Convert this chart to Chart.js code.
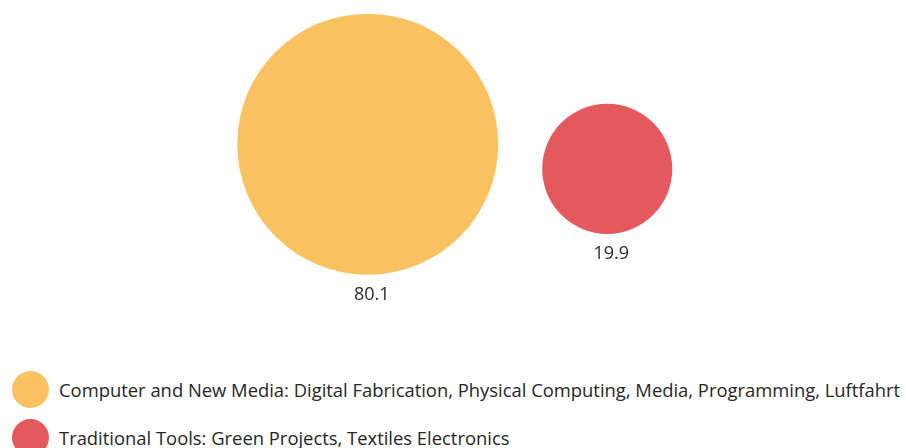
<!DOCTYPE html>
<html>
<head>
<meta charset="utf-8">
<script src="https://cdn.jsdelivr.net/npm/chart.js@4.4.0/dist/chart.umd.min.js"></script>
<style>
  body { margin: 0; background: #fff; font-family: "Open Sans", sans-serif; }
  #wrap { position: relative; width: 906px; height: 448px; overflow: hidden; }
  #legend { position: absolute; left: 12px; top: 365px; }
  .legend-item { display: flex; align-items: center; height: 48px; color: #262626; font-size: 18.4px; white-space: nowrap; }
  .legend-dot { width: 37px; height: 37px; border-radius: 50%; margin-right: 10px; flex: none; }
</style>
</head>
<body>
<div id="wrap">
  <canvas id="chart" width="906" height="340"></canvas>
  <div id="legend"></div>
</div>
<script>
const categories = [
  'Computer and New Media: Digital Fabrication, Physical Computing, Media, Programming, Luftfahrt',
  'Traditional Tools: Green Projects, Textiles Electronics'
];
const shares = [80.1, 19.9];
const colors = ['#F9C15F', '#E4585E'];

// bubble area follows the share
const radiusScale = 130.5 / Math.sqrt(80.1);

const valueLabels = {
  id: 'valueLabels',
  afterDatasetsDraw(chart) {
    const ctx = chart.ctx;
    ctx.save();
    ctx.font = '18px "Open Sans", sans-serif';
    ctx.fillStyle = '#2b2b2b';
    ctx.textAlign = 'center';
    ctx.textBaseline = 'middle';
    chart.getDatasetMeta(0).data.forEach((pt, i) => {
      const r = pt.options.radius;
      ctx.fillText(shares[i].toFixed(1), pt.x + 4, pt.y + r + 20);
    });
    ctx.restore();
  }
};

new Chart(document.getElementById('chart'), {
  type: 'bubble',
  data: {
    datasets: [{
      data: shares.map((v, i) => ({ x: i, y: v, r: radiusScale * Math.sqrt(v) })),
      backgroundColor: colors,
      borderWidth: 0,
      hoverBorderWidth: 0,
      clip: false
    }]
  },
  options: {
    responsive: false,
    animation: false,
    devicePixelRatio: 1,
    layout: { padding: { left: 248, right: 179, top: 136, bottom: 163 } },
    scales: {
      x: { type: 'linear', min: -0.5, max: 1.5, display: false },
      y: { type: 'linear', min: 0, max: 100, display: false }
    },
    plugins: {
      legend: { display: false },
      tooltip: { enabled: false }
    }
  },
  plugins: [valueLabels]
});

document.getElementById('legend').innerHTML = categories.map((name, i) => `
  <div class="legend-item">
    <span class="legend-dot" style="background:${colors[i]}"></span>
    <span>${name}</span>
  </div>
`).join('');
</script>
</body>
</html>
